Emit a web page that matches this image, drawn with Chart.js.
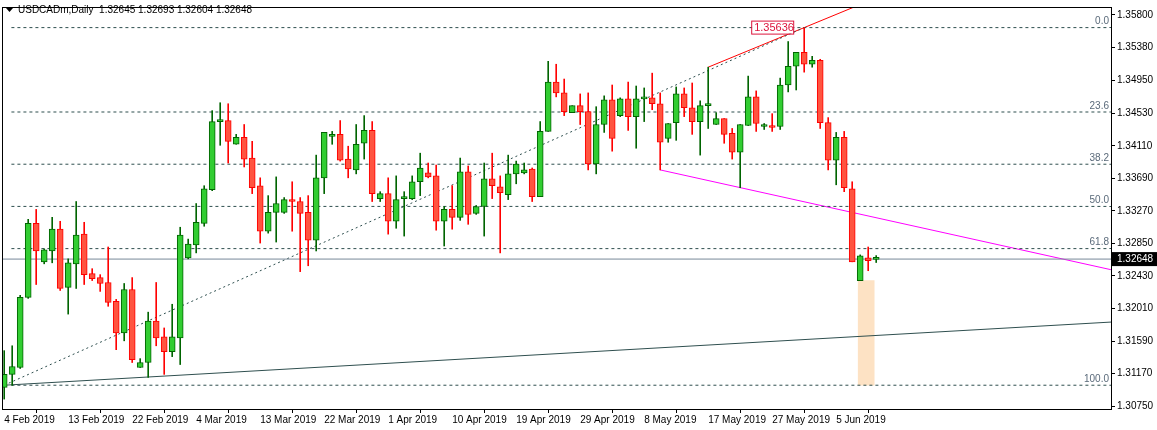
<!DOCTYPE html>
<html><head><meta charset="utf-8">
<script src="https://cdn.jsdelivr.net/npm/chart.js@4/dist/chart.umd.min.js"></script>
<style>html,body{margin:0;padding:0;background:#fff;}#wrap{width:1157px;height:430px;}</style>
</head><body><div id="wrap"><canvas id="c" width="1157" height="430"></canvas></div>
<script>
const opens=[1.30993,1.3116,1.31249,1.32154,1.3311,1.32613,1.32753,1.33034,1.32282,1.32587,
1.3297,1.3246,1.32409,1.32346,1.32103,1.31695,1.32256,1.31249,1.31313,1.31848,
1.31644,1.31453,1.31631,1.32664,1.3283,1.3311,1.33544,1.34423,1.34436,1.3413,
1.34219,1.33952,1.33595,1.33008,1.33251,1.33251,1.33416,1.33391,1.33251,1.32893,
1.33697,1.34232,1.34258,1.33939,1.33799,1.34143,1.34309,1.33429,1.33493,1.33136,
1.33429,1.33429,1.33646,1.3376,1.33722,1.33136,1.33289,1.33187,1.33773,1.33238,
1.33327,1.33684,1.33582,1.3348,1.33748,1.3376,1.33811,1.33455,1.34296,1.34933,
1.34793,1.34538,1.34628,1.34551,1.33875,1.34385,1.34704,1.345,1.34717,1.34487,
1.34717,1.34729,1.34653,1.34207,1.3441,1.3478,1.34602,1.34423,1.34628,1.34385,
1.34462,1.3427,1.34028,1.34372,1.34742,1.34359,1.34372,1.34359,1.34895,1.35137,
1.35316,1.35163,1.35214,1.3441,1.33926,1.34219,1.33556,1.32371,1.32664,1.32645];
const highs=[1.31466,1.31529,1.3218,1.33161,1.33289,1.32779,1.33187,1.33136,1.32651,1.33391,
1.33123,1.32524,1.32447,1.32804,1.32128,1.32333,1.32409,1.31363,1.31963,1.32346,
1.31759,1.32065,1.33059,1.32906,1.33365,1.33595,1.34564,1.34666,1.34653,1.34258,
1.34385,1.34168,1.33697,1.33467,1.33709,1.33442,1.33646,1.33442,1.33467,1.3399,
1.34283,1.34296,1.34436,1.34105,1.34385,1.345,1.34423,1.33518,1.33697,1.33722,
1.33518,1.33722,1.34015,1.33888,1.33862,1.33327,1.33595,1.33952,1.3385,1.3334,
1.33888,1.34015,1.33722,1.3399,1.33913,1.33888,1.33824,1.34423,1.35201,1.35163,
1.34972,1.34628,1.3478,1.34793,1.34615,1.34755,1.34895,1.34729,1.34933,1.34882,
1.34857,1.35048,1.34793,1.34398,1.3487,1.34857,1.34921,1.34691,1.35125,1.34538,
1.34462,1.34334,1.34385,1.3501,1.34819,1.34398,1.34525,1.34984,1.35456,1.35316,
1.35636,1.35265,1.35227,1.34474,1.34283,1.34296,1.33646,1.32702,1.32804,1.32693];
const lows=[1.30841,1.31019,1.31236,1.32141,1.3232,1.32587,1.326,1.32243,1.31938,1.32269,
1.3232,1.32371,1.32231,1.32039,1.31479,1.31593,1.31313,1.31249,1.31121,1.31529,
1.3116,1.31389,1.31287,1.32651,1.32728,1.33072,1.33531,1.34117,1.33888,1.3413,
1.33837,1.33493,1.32855,1.32983,1.32868,1.33238,1.33008,1.32486,1.32562,1.32753,
1.33493,1.3413,1.33913,1.33697,1.33748,1.33939,1.33391,1.33391,1.3297,1.33046,
1.32945,1.33416,1.33467,1.33697,1.33021,1.32817,1.33034,1.33148,1.33097,1.33225,
1.32945,1.33429,1.32728,1.33416,1.3362,1.33748,1.33391,1.33455,1.34296,1.34742,
1.345,1.34538,1.34385,1.33799,1.33748,1.34283,1.34041,1.34487,1.34309,1.34079,
1.34423,1.34577,1.33799,1.34156,1.34181,1.34487,1.34258,1.3399,1.34334,1.34385,
1.34143,1.33939,1.33569,1.34372,1.34296,1.34321,1.34296,1.34321,1.34806,1.34831,
1.35061,1.35125,1.34334,1.33799,1.33607,1.33518,1.32613,1.32371,1.32498,1.32604];
const closes=[1.3116,1.31262,1.32154,1.3311,1.32753,1.32766,1.33034,1.32269,1.326,1.32957,
1.32447,1.32396,1.32333,1.3209,1.31695,1.32256,1.31351,1.31313,1.31848,1.31631,
1.31453,1.31644,1.32957,1.32842,1.33123,1.33556,1.34423,1.34436,1.34168,1.34219,
1.33939,1.33569,1.33008,1.33251,1.33365,1.33416,1.33391,1.33238,1.32893,1.33697,
1.34283,1.34258,1.33926,1.33811,1.3413,1.34309,1.33493,1.33493,1.33136,1.33416,
1.33442,1.33646,1.33824,1.33709,1.33136,1.33289,1.33187,1.33773,1.33225,1.33327,
1.33684,1.33595,1.33505,1.33748,1.33875,1.33799,1.33455,1.34296,1.34933,1.34793,
1.34551,1.34628,1.34551,1.33875,1.34385,1.34704,1.34207,1.34717,1.34487,1.34717,
1.34729,1.34653,1.34156,1.34398,1.3478,1.34602,1.34423,1.34628,1.3464,1.34462,
1.34258,1.34028,1.34385,1.34742,1.34398,1.34359,1.34347,1.34895,1.35137,1.35316,
1.35163,1.35214,1.3441,1.33926,1.34219,1.33569,1.32613,1.32689,1.32626,1.32648];
const dateLabels=['4 Feb 2019','13 Feb 2019','22 Feb 2019','4 Mar 2019','13 Mar 2019','22 Mar 2019','1 Apr 2019','10 Apr 2019','19 Apr 2019','29 Apr 2019','8 May 2019','17 May 2019','27 May 2019','5 Jun 2019'];
const dateIdx=[0,8,16,24,32,40,48,56,64,72,80,88,96,104];
const priceTicks=[1.3075,1.3117,1.3159,1.3201,1.3243,1.3285,1.3327,1.3369,1.3411,1.3453,1.3495,1.3538,1.358];
const fibLevels=[0,23.6,38.2,50.0,61.8,100.0];
const fibHigh=1.35636, fibLow=1.3102;
const lastPrice=1.32648;
const XMIN=-0.15, XMAX=138.35;

const up=closes.map((c,i)=>c>=opens[i]);
const n=opens.length;
const idx=[...Array(n).keys()];
const fibPrices=fibLevels.map(l=>fibHigh-(fibHigh-fibLow)*l/100);

const lineDs=(pts,color,dash,w)=>({type:'line',data:pts,borderColor:color,borderWidth:w||1,borderDash:dash||[],pointRadius:0,fill:false,order:5,tension:0});
const datasets=[
 {type:'bar',data:[{x:107.75,y:[1.31019,1.32371]}],backgroundColor:'#FDE2C4',barThickness:16,grouped:false,order:20},
 ...fibPrices.map(p=>lineDs([{x:0.9,y:p},{x:XMAX,y:p}],'#2F4F4F',[3,3])),
 lineDs([{x:XMIN,y:lastPrice},{x:XMAX,y:lastPrice}],'#778899'),
 lineDs([{x:0,y:fibLow},{x:100,y:fibHigh}],'#2F4F4F',[2,3]),
 lineDs([{x:XMIN,y:1.31019},{x:XMAX,y:1.31835}],'#2F4F4F'),
 lineDs([{x:82,y:1.33799},{x:XMAX,y:1.32511}],'#FF00FF'),
 lineDs([{x:88,y:1.35125},{x:100,y:fibHigh},{x:115,y:1.36275}],'#FF0000'),
 {type:'bar',data:idx.map(i=>({x:i,y:[lows[i],highs[i]]})),backgroundColor:idx.map(i=>up[i]?'#006400':'#FF0000'),barThickness:1,grouped:false,order:2},
 {type:'bar',data:idx.map(i=>({x:i,y:[opens[i],closes[i]]})),backgroundColor:idx.map(i=>up[i]?'#32CD32':'#FF5440'),borderColor:idx.map(i=>up[i]?'#006400':'#FF0000'),borderWidth:1,borderSkipped:false,barThickness:6,minBarLength:2,grouped:false,order:1}
];

const deco={id:'deco',
 afterDraw(ch){const c=ch.ctx,a=ch.chartArea,y=ch.scales.y;
  c.save();
  c.strokeStyle='#000';c.lineWidth=1;c.strokeRect(Math.round(a.left)-0.5,Math.round(a.top)-0.5,Math.round(a.right-a.left)+1,Math.round(a.bottom-a.top)+1);
  c.font='10px "Liberation Sans"';c.fillStyle='#5A6A7A';c.textAlign='right';c.textBaseline='bottom';
  fibLevels.forEach((l,i)=>{c.fillText(l.toFixed(1),a.right-2,y.getPixelForValue(fibPrices[i])-1);});
  const py=y.getPixelForValue(lastPrice);
  c.fillStyle='#000';c.fillRect(a.right+1,py-7,47,14);
  c.fillStyle='#fff';c.textAlign='left';c.textBaseline='middle';c.font='10px "Liberation Sans"';c.fillText(lastPrice.toFixed(5),a.right+6,py+0.5);
  const hy=y.getPixelForValue(fibHigh),hx=ch.scales.x.getPixelForValue(100);
  c.fillStyle='#fff';c.fillRect(hx-52,hy-6,41,12);
  c.strokeStyle='#DC143C';c.strokeRect(hx-52.5,hy-6.5,42,13);
  c.fillStyle='#DC143C';c.textAlign='left';c.font='11px "Liberation Sans"';c.fillText(fibHigh.toFixed(5),hx-50,hy+0.5);
  c.fillStyle='#000';c.beginPath();c.moveTo(6,8);c.lineTo(13,8);c.lineTo(9.5,12);c.closePath();c.fill();
  c.font='10px "Liberation Sans"';c.textBaseline='middle';c.fillText('USDCADm,Daily  1.32645 1.32693 1.32604 1.32648',18,10.5);
  c.restore();}
};

new Chart(document.getElementById('c'),{
 data:{datasets},
 options:{responsive:false,animation:false,devicePixelRatio:1,
  layout:{padding:{left:3,top:3,right:0,bottom:0}},
  plugins:{legend:{display:false},tooltip:{enabled:false}},
  scales:{
   x:{type:'linear',min:XMIN,max:XMAX,offset:false,
    afterBuildTicks(s){s.ticks=dateIdx.map(v=>({value:v}));},
    afterFit(s){s.height=21;},
    ticks:{autoSkip:false,maxRotation:0,align:'start',padding:1,color:'#000',font:{family:'Liberation Sans',size:10},callback:(v)=>dateLabels[dateIdx.indexOf(v)]},
    grid:{display:true,drawOnChartArea:false,tickLength:4,color:'#000'},border:{color:'#000'}},
   y:{type:'linear',position:'right',min:1.30713,max:1.35889,
    afterBuildTicks(s){s.ticks=priceTicks.map(v=>({value:v}));},
    afterFit(s){s.width=46;},
    ticks:{padding:2,color:'#000',font:{family:'Liberation Sans',size:10},callback:v=>v.toFixed(5)},
    grid:{display:true,drawOnChartArea:false,tickLength:4,color:'#000'},border:{color:'#000'}}
  }},
 plugins:[deco]
});
</script></body></html>
